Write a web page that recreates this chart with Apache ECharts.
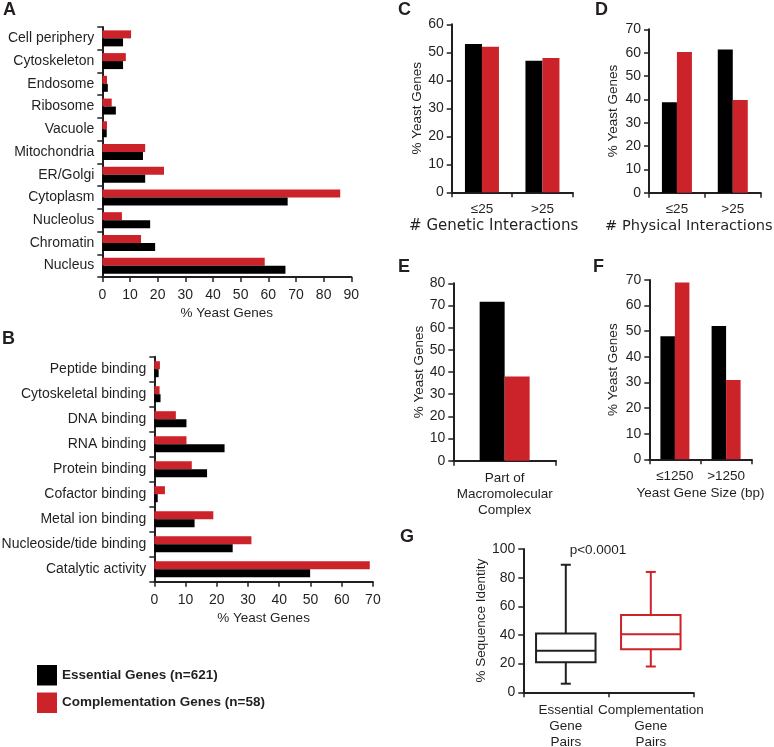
<!DOCTYPE html>
<html>
<head>
<meta charset="utf-8">
<script src="https://cdn.jsdelivr.net/npm/echarts@6/dist/echarts.min.js"></script>
<style>
html,body{margin:0;padding:0;background:#fff;}
#chart{width:774px;height:747px;}
</style>
</head>
<body>
<div id="chart"></div>
<script>
// ---------- DATA ----------
const essentialName = 'Essential Genes (n=621)';
const complementationName = 'Complementation Genes (n=58)';

// Panel A: localization
const locCategories = ['Cell periphery','Cytoskeleton','Endosome','Ribosome','Vacuole','Mitochondria','ER/Golgi','Cytoplasm','Nucleolus','Chromatin','Nucleus'];
const locEssential = [7.5, 7.5, 2.0, 4.9, 1.6, 14.7, 15.5, 67.0, 17.3, 19.1, 66.2];
const locComplementation = [10.4, 8.5, 1.7, 3.4, 1.7, 15.5, 22.3, 86.0, 7.1, 14.0, 58.7];

// Panel B: molecular function
const funcCategories = ['Peptide binding','Cytoskeletal binding','DNA binding','RNA binding','Protein binding','Cofactor binding','Metal ion binding','Nucleoside/tide binding','Catalytic activity'];
const funcEssential = [1.4, 2.0, 10.3, 22.5, 16.9, 1.1, 12.9, 25.1, 49.9];
const funcComplementation = [1.8, 1.7, 6.9, 10.3, 12.0, 3.4, 18.9, 31.1, 69.0];

// Panel C: genetic interactions
const geneticCategories = ['≤25', '>25'];
const geneticEssential = [53, 47];
const geneticComplementation = [52, 48];

// Panel D: physical interactions
const physicalCategories = ['≤25', '>25'];
const physicalEssential = [38.7, 61.3];
const physicalComplementation = [60.3, 39.7];

// Panel E: macromolecular complex
const complexCategories = ['Part of\nMacromolecular\nComplex'];
const complexEssential = [71.7];
const complexComplementation = [38];

// Panel F: gene size
const sizeCategories = ['≤1250', '>1250'];
const sizeEssential = [48, 52];
const sizeComplementation = [69, 31];

// Panel G: sequence identity box plots [min, Q1, median, Q3, max]
const identityCategories = ['Essential\nGene\nPairs', 'Complementation\nGene\nPairs'];
const essentialIdentity = [6, 21, 29, 41, 89];
const complementationIdentity = [18, 30, 40.5, 54, 84];
const pValueText = 'p<0.0001';

// ---------- STYLE ----------
const FONT = '"Liberation Sans", Arial, "DejaVu Sans", sans-serif';
const WIDE_FONT = '"DejaVu Sans", "Liberation Sans", sans-serif';
const TXT = '#231f20';
const BLACK = '#000000';
const RED = '#cc2229';
const axisLine = {show: true, lineStyle: {color: TXT, width: 2}};
const axisTick = {show: true, length: 5, lineStyle: {color: TXT, width: 1.5}};

function valueAxis(gridIndex, max, interval, extra, labelMargin) {
  return Object.assign({
    type: 'value', gridIndex, min: 0, max, interval,
    axisLine, axisTick, splitLine: {show: false},
    axisLabel: {color: TXT, fontFamily: FONT, fontSize: 14, margin: labelMargin || 8},
    nameTextStyle: {color: TXT, fontFamily: FONT, fontSize: 13.5}
  }, extra || {});
}
function catAxis(gridIndex, data, extra, labelMargin) {
  return Object.assign({
    type: 'category', gridIndex, data,
    axisLine, axisTick,
    axisLabel: {color: TXT, fontFamily: FONT, fontSize: 13.5, margin: labelMargin || 9, lineHeight: 16, interval: 0},
    nameTextStyle: {color: TXT, fontFamily: FONT, fontSize: 13.5}
  }, extra || {});
}
function barPair(axisIdx, ess, comp, width, horizontal) {
  const base = {type: 'bar', xAxisIndex: axisIdx, yAxisIndex: axisIdx, barWidth: width, barGap: '0%', silent: true};
  const e = Object.assign({}, base, {name: essentialName, data: ess, itemStyle: {color: BLACK}});
  const c = Object.assign({}, base, {name: complementationName, data: comp, itemStyle: {color: RED}});
  return horizontal ? [c, e] : [e, c];
}

function renderBox(params, api) {
  const x = api.value(0);
  const lo = api.coord([x, api.value(1)]);
  const q1 = api.coord([x, api.value(2)]);
  const med = api.coord([x, api.value(3)]);
  const q3 = api.coord([x, api.value(4)]);
  const hi = api.coord([x, api.value(5)]);
  const bw = api.size([1, 0])[0] * 0.7;
  const cw = 10;
  const cx = lo[0];
  const color = api.visual('color');
  const st = {stroke: color, lineWidth: 2, fill: null};
  return {type: 'group', children: [
    {type: 'line', shape: {x1: cx, y1: hi[1], x2: cx, y2: q3[1]}, style: st},
    {type: 'line', shape: {x1: cx, y1: q1[1], x2: cx, y2: lo[1]}, style: st},
    {type: 'line', shape: {x1: cx - cw / 2, y1: hi[1], x2: cx + cw / 2, y2: hi[1]}, style: st},
    {type: 'line', shape: {x1: cx - cw / 2, y1: lo[1], x2: cx + cw / 2, y2: lo[1]}, style: st},
    {type: 'rect', shape: {x: cx - bw / 2, y: q3[1], width: bw, height: q1[1] - q3[1]}, style: {stroke: color, lineWidth: 2, fill: '#fff'}},
    {type: 'line', shape: {x1: cx - bw / 2, y1: med[1], x2: cx + bw / 2, y2: med[1]}, style: st}
  ]};
}

const letter = (t, left, top) => ({text: t, left, top, padding: 0,
  textStyle: {fontFamily: FONT, fontSize: 18, fontWeight: 'bold', color: TXT}});

const wideName = (pad, size) => ({color: TXT, fontFamily: WIDE_FONT, fontSize: size, padding: [0, pad, 0, 0]});

const gridBox = (left, top, width, height) => ({left, top, width, height, outerBoundsMode: 'none', containLabel: false});

const option = {
  animation: false,
  backgroundColor: '#fff',
  title: [
    letter('A', 3, 1), letter('B', 2, 330), letter('C', 398, 1), letter('D', 595, 1),
    letter('E', 398, 258), letter('F', 593, 258), letter('G', 400, 528)
  ],
  legend: {
    data: [essentialName, complementationName],
    orient: 'vertical', left: 37, top: 665, padding: 0,
    itemWidth: 20, itemHeight: 20.5, itemGap: 7, icon: 'rect',
    selectedMode: false,
    textStyle: {fontFamily: FONT, fontSize: 13.5, fontWeight: 'bold', color: TXT}
  },
  grid: [
    gridBox(102.3, 27, 249, 250),       // A
    gridBox(154.3, 356.7, 218.6, 225),  // B
    gridBox(451.7, 24.3, 121, 168),     // C
    gridBox(649, 29.3, 111.7, 163.4),   // D
    gridBox(453.3, 283.3, 102.7, 177.4),// E
    gridBox(649.3, 280, 102.4, 179.3),  // F
    gridBox(523.3, 549, 170, 143.3)     // G
  ],
  xAxis: [
    valueAxis(0, 90, 10, {name: '% Yeast Genes', nameLocation: 'middle', nameGap: 29}, 11),
    valueAxis(1, 70, 10, {name: '% Yeast Genes', nameLocation: 'middle', nameGap: 30}, 11),
    catAxis(2, geneticCategories, {name: '# Genetic Interactions', nameLocation: 'middle', nameGap: 21, nameTextStyle: wideName(37, 15)}),
    catAxis(3, physicalCategories, {name: '# Physical Interactions', nameLocation: 'middle', nameGap: 20.5, nameTextStyle: wideName(32, 14.6)}),
    catAxis(4, complexCategories, null, 10),
    catAxis(5, sizeCategories, {name: 'Yeast Gene Size (bp)', nameLocation: 'middle', nameGap: 26.5}),
    catAxis(6, identityCategories, null, 10)
  ],
  yAxis: [
    catAxis(0, locCategories, {inverse: true, axisLabel: {color: TXT, fontFamily: FONT, fontSize: 14, margin: 8, interval: 0}}),
    catAxis(1, funcCategories, {inverse: true, axisLabel: {color: TXT, fontFamily: FONT, fontSize: 14, margin: 8, interval: 0}}),
    valueAxis(2, 60, 10, {name: '% Yeast Genes', nameLocation: 'middle', nameGap: 26}),
    valueAxis(3, 70, 10, {name: '% Yeast Genes', nameLocation: 'middle', nameGap: 28.5}),
    valueAxis(4, 80, 10, {name: '% Yeast Genes', nameLocation: 'middle', nameGap: 26.5}),
    valueAxis(5, 70, 10, {name: '% Yeast Genes', nameLocation: 'middle', nameGap: 29}),
    valueAxis(6, 100, 20, {name: '% Sequence Identity', nameLocation: 'middle', nameGap: 31})
  ],
  series: [].concat(
    barPair(0, locEssential, locComplementation, 8, true),
    barPair(1, funcEssential, funcComplementation, 8, true),
    barPair(2, geneticEssential, geneticComplementation, 17, false),
    barPair(3, physicalEssential, physicalComplementation, 15, false),
    barPair(4, complexEssential, complexComplementation, 25, false),
    barPair(5, sizeEssential, sizeComplementation, 14.5, false),
    [
      {type: 'custom', name: 'essentialBox', xAxisIndex: 6, yAxisIndex: 6, renderItem: renderBox,
       itemStyle: {color: TXT}, encode: {x: 0, y: [1, 2, 3, 4, 5]},
       data: [[0].concat(essentialIdentity)], silent: true},
      {type: 'custom', name: 'complementationBox', xAxisIndex: 6, yAxisIndex: 6, renderItem: renderBox,
       itemStyle: {color: RED}, encode: {x: 0, y: [1, 2, 3, 4, 5]},
       data: [[1].concat(complementationIdentity)], silent: true}
    ]
  ),
  graphic: [
    {type: 'text', x: 598, y: 550, style: {text: pValueText, fill: TXT, font: '13.5px ' + FONT, textAlign: 'center', textVerticalAlign: 'middle'}}
  ]
};

const chart = echarts.init(document.getElementById('chart'), null, {renderer: 'canvas'});
chart.setOption(option);
</script>
</body>
</html>
